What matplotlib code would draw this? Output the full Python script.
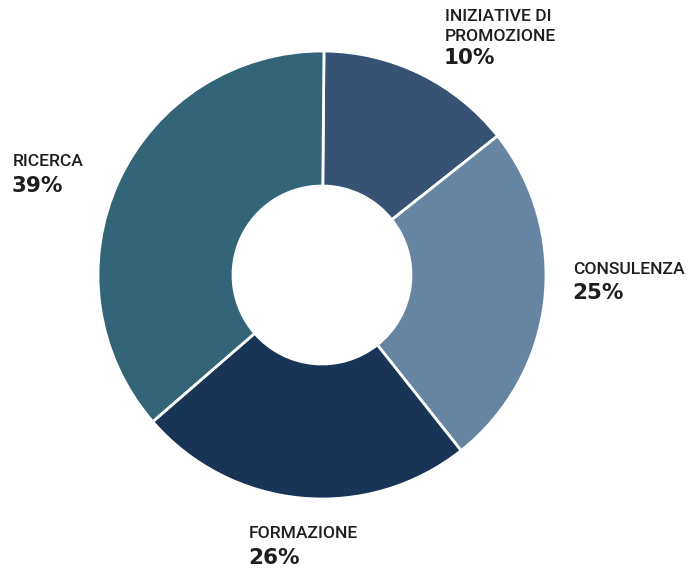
import matplotlib.pyplot as plt

# wedge shares as drawn; labels as printed
names = ['INIZIATIVE DI\nPROMOZIONE', 'CONSULENZA', 'FORMAZIONE', 'RICERCA']
shares = [14.2, 25.0, 24.3, 36.5]
pct_labels = ['10%', '25%', '26%', '39%']
colors = ['#365274', '#6585a2', '#183457', '#336478']

plt.rcParams['font.family'] = ['Roboto', 'DejaVu Sans']

fig = plt.figure(figsize=(6.97, 5.73), dpi=100)
ax = fig.add_axes([0, 0, 1, 1])

H = 573
ax.pie(shares, colors=colors, startangle=89.5, counterclock=False,
       center=(322, H - 275), radius=224,
       wedgeprops=dict(width=135, edgecolor='white', linewidth=2))
ax.set_xlim(0, 697)
ax.set_ylim(0, 573)
ax.set_aspect('equal')
ax.axis('off')

# label positions (pixel coords: x, y of name, y of pct)
pos = [(445, 26.5, 58), (573, 270, 293), (249, 534, 558), (13, 161, 186)]
for name, pct, (x, yn, yp) in zip(names, pct_labels, pos):
    ax.text(x, H - yn, name, fontsize=12.6, fontweight='medium', color='#1e1e1e',
            ha='left', va='center', linespacing=1.35)
    ax.text(x - 1, H - yp, pct, fontsize=15.5, fontweight='bold', color='#1e1e1e',
            family='DejaVu Sans', ha='left', va='center')

fig.savefig('out.png', dpi=100)
